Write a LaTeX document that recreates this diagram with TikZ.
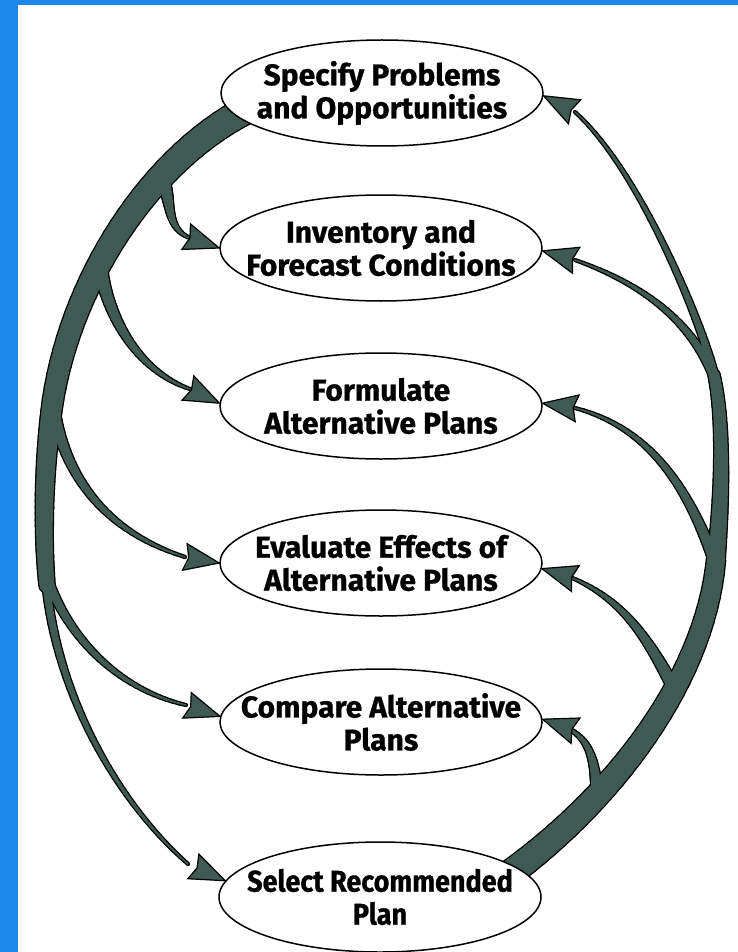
\documentclass[tikz,border=0pt]{standalone}
\usepackage{fontspec}
\setmainfont{Fira Sans}
\newfontfamily\lblfont[FakeBold=0.8]{Fira Sans}
\newfontfamily\lblcondfont[FakeBold=0.8,FakeStretch=0.9]{Fira Sans}
\usetikzlibrary{shapes.geometric,calc}
\definecolor{bandblue}{RGB}{28,134,234}
\definecolor{treegreen}{RGB}{62,90,82}

% tapered cubic piece: #1 name (coordinates #1-0..#1-3), #2 start width, #3 end width, #4 colour, #5 extra width
\newcommand\tpiece[5]{%
  \foreach \k in {0,...,29}{%
    \pgfmathsetmacro\ta{\k/30}%
    \pgfmathsetmacro\tb{(\k+1)/30}%
    \pgfmathsetmacro\ww{#2+(#3-#2)*(\k+0.5)/30+#5}%
    \pgfcoordinate{qa}{\pgfpointcurveattime{\ta}{\pgfpointanchor{#1-0}{center}}{\pgfpointanchor{#1-1}{center}}{\pgfpointanchor{#1-2}{center}}{\pgfpointanchor{#1-3}{center}}}%
    \pgfcoordinate{qb}{\pgfpointcurveattime{\tb}{\pgfpointanchor{#1-0}{center}}{\pgfpointanchor{#1-1}{center}}{\pgfpointanchor{#1-2}{center}}{\pgfpointanchor{#1-3}{center}}}%
    \draw[draw=#4, line width=\ww pt, line cap=round] (qa) -- (qb);
  }%
}
% arrow head: #1 coordinate behind the head, #2 tip (node anchor)
\newcommand\ahead[2]{%
  \coordinate (hb) at ($(#2)!35pt!(#1)$);
  \filldraw[headstyle] (#2) -- ($(hb)!13.5pt!90:(#2)$) -- ($(#2)!31pt!(#1)$) -- ($(hb)!13.5pt!-90:(#2)$) -- cycle;
}

\tikzset{
  ell/.style={ellipse, draw=black, line width=1.5pt, fill=white, minimum width=322pt, minimum height=106pt, inner sep=0pt},
  lbl/.style={font=\lblfont\bfseries\fontsize{30}{33}\selectfont, align=center, inner sep=0pt},
  lblc/.style={font=\lblcondfont\bfseries\fontsize{30}{33}\selectfont, align=center, inner sep=0pt},
  headstyle/.style={fill=treegreen, draw=black, line width=1.2pt, line join=miter}
}

\begin{document}
\begin{tikzpicture}[x=1pt,y=-1pt]
\useasboundingbox (0,0) rectangle (738,952);
\fill[white] (0,0) rectangle (738,952);
\fill[bandblue] (0,0) rectangle (18,952);
\fill[bandblue] (0,0) rectangle (738,5);

% ---- left tree coordinates
\coordinate (lt1-0) at (250,108); \coordinate (lt1-1) at (150,158); \coordinate (lt1-2) at (72,280); \coordinate (lt1-3) at (53,400);
\coordinate (lt2-0) at (53,400); \coordinate (lt2-1) at (44,460); \coordinate (lt2-2) at (42,530); \coordinate (lt2-3) at (47,585);
\coordinate (li-0) at (162,178); \coordinate (li-1) at (172,200); \coordinate (li-2) at (165,228); \coordinate (li-3) at (190,238);
\coordinate (lf-0) at (100,265); \coordinate (lf-1) at (108,320); \coordinate (lf-2) at (140,372); \coordinate (lf-3) at (190,389);
\coordinate (le-0) at (52,400); \coordinate (le-1) at (62,470); \coordinate (le-2) at (100,530); \coordinate (le-3) at (185,557);
\coordinate (lc-0) at (48,580); \coordinate (lc-1) at (70,640); \coordinate (lc-2) at (120,690); \coordinate (lc-3) at (186,705);
\coordinate (ls-0) at (46,580); \coordinate (ls-1) at (55,690); \coordinate (ls-2) at (115,800); \coordinate (ls-3) at (188,864);
% ---- right tree coordinates
\coordinate (r1-0) at (505,877); \coordinate (r1-1) at (612,800); \coordinate (r1-2) at (705,680); \coordinate (r1-3) at (716,560);
\coordinate (r2-0) at (716,560); \coordinate (r2-1) at (720,520); \coordinate (r2-2) at (726,430); \coordinate (r2-3) at (714,375);
\coordinate (r3-0) at (714,375); \coordinate (r3-1) at (704,328); \coordinate (r3-2) at (640,170); \coordinate (r3-3) at (575,112);
\coordinate (rc-0) at (597,795); \coordinate (rc-1) at (595,760); \coordinate (rc-2) at (590,736); \coordinate (rc-3) at (562,726);
\coordinate (re-0) at (674,688); \coordinate (re-1) at (648,640); \coordinate (re-2) at (625,600); \coordinate (re-3) at (570,577);
\coordinate (rf-0) at (716,565); \coordinate (rf-1) at (694,505); \coordinate (rf-2) at (660,430); \coordinate (rf-3) at (575,408);
\coordinate (ri-0) at (716,382); \coordinate (ri-1) at (698,335); \coordinate (ri-2) at (660,290); \coordinate (ri-3) at (575,260);

% outline pass
\tpiece{lt1}{27}{20}{black}{2.6}
\tpiece{lt2}{20}{15}{black}{2.6}
\tpiece{li}{13}{1.5}{black}{2.6}
\tpiece{lf}{13}{1.5}{black}{2.6}
\tpiece{le}{12}{1.5}{black}{2.6}
\tpiece{lc}{9}{1.5}{black}{2.6}
\tpiece{ls}{8}{1.5}{black}{2.6}
\tpiece{r1}{26}{18}{black}{2.6}
\tpiece{r2}{17}{11}{black}{2.6}
\tpiece{r3}{8}{1.5}{black}{2.6}
\tpiece{rc}{11}{1.5}{black}{2.6}
\tpiece{re}{12}{1.5}{black}{2.6}
\tpiece{rf}{11}{1.5}{black}{2.6}
\tpiece{ri}{9}{1.5}{black}{2.6}
% fill pass
\tpiece{lt1}{27}{20}{treegreen}{0}
\tpiece{lt2}{20}{15}{treegreen}{0}
\tpiece{li}{13}{1.5}{treegreen}{0}
\tpiece{lf}{13}{1.5}{treegreen}{0}
\tpiece{le}{12}{1.5}{treegreen}{0}
\tpiece{lc}{9}{1.5}{treegreen}{0}
\tpiece{ls}{8}{1.5}{treegreen}{0}
\tpiece{r1}{26}{18}{treegreen}{0}
\tpiece{r2}{17}{11}{treegreen}{0}
\tpiece{r3}{8}{1.5}{treegreen}{0}
\tpiece{rc}{11}{1.5}{treegreen}{0}
\tpiece{re}{12}{1.5}{treegreen}{0}
\tpiece{rf}{11}{1.5}{treegreen}{0}
\tpiece{ri}{9}{1.5}{treegreen}{0}

% ---- ellipses
\node[ell] (spec) at (382,93) {};
\node[ell] (inv)  at (381,248) {};
\node[ell] (form) at (381,406) {};
\node[ell] (eval) at (381,563) {};
\node[ell] (comp) at (381,722) {};
\node[ell, minimum height=110pt] (sel) at (380,897) {};

\node[lbl] (spec-t) at (spec) {Specify Problems\\and Opportunities};
\node[lbl] (inv-t)  at (inv)  {Inventory and\\Forecast Conditions};
\node[lbl] (form-t) at (form) {Formulate\\Alternative Plans};
\node[lbl] (eval-t) at (eval) {Evaluate Effects of\\Alternative Plans};
\node[lbl] (comp-t) at (comp) {Compare Alternative\\Plans};
\node[lblc] (sel-t) at (sel) {Select Recommended\\Plan};

% ---- arrow heads
\ahead{li-3}{inv.west}
\ahead{lf-3}{form.179}
\ahead{le-3}{eval.west}
\ahead{lc-3}{comp.178}
\ahead{ls-3}{sel.174}
\ahead{r3-3}{spec.359}
\ahead{ri-3}{inv.359}
\ahead{rf-3}{form.1}
\ahead{re-3}{eval.358}
\ahead{rc-3}{comp.1}
\end{tikzpicture}
\end{document}
